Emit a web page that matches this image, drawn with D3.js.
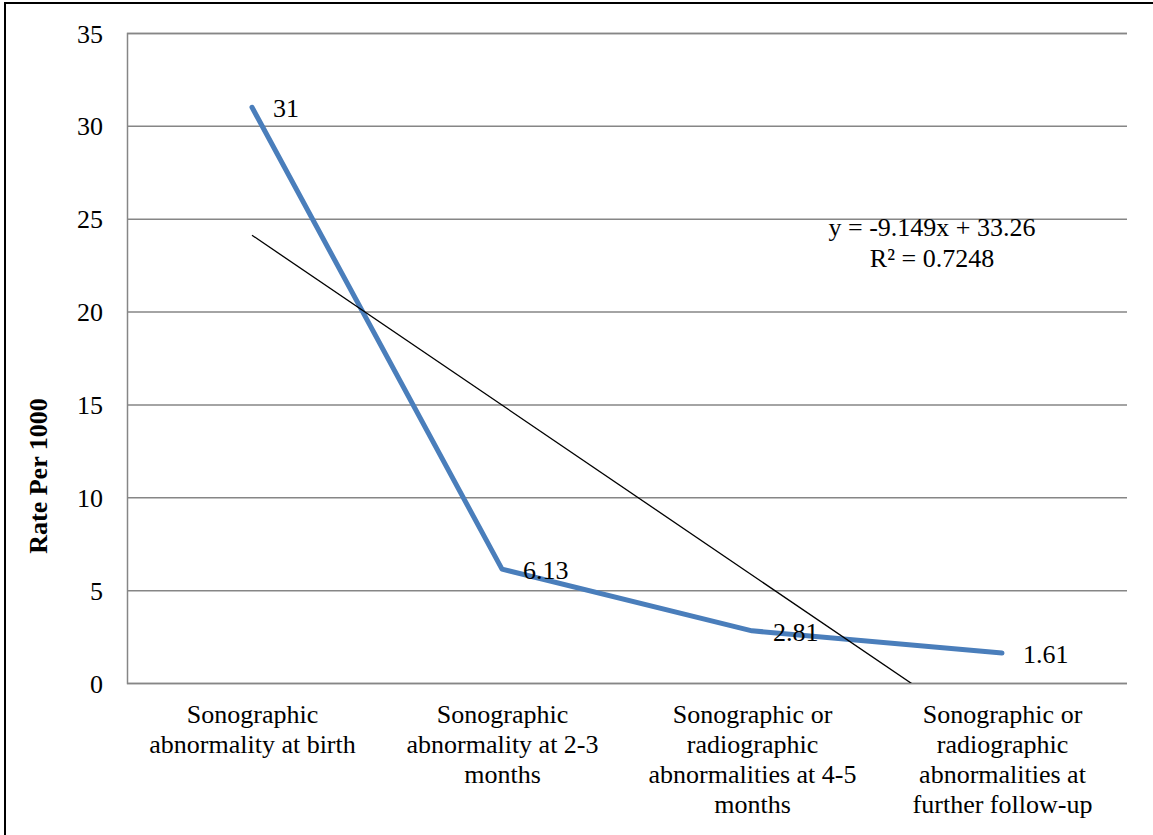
<!DOCTYPE html>
<html>
<head>
<meta charset="utf-8">
<script src="https://cdn.jsdelivr.net/npm/d3@7"></script>
<style>
  html, body { margin: 0; padding: 0; background: #fff; }
  svg { display: block; }
  text { font-family: "Liberation Serif", "Times New Roman", serif; fill: #000; }
</style>
</head>
<body>
<svg id="chart" width="1153" height="835"></svg>
<script>
// Rate per 1000 at each stage of follow-up
const categories = [
  ["Sonographic", "abnormality at birth"],
  ["Sonographic", "abnormality at 2-3", "months"],
  ["Sonographic or", "radiographic", "abnormalities at 4-5", "months"],
  ["Sonographic or", "radiographic", "abnormalities at", "further follow-up"]
];
const values = [31, 6.13, 2.81, 1.61];
const valueLabels = ["31", "6.13", "2.81", "1.61"];
const yTicks = [0, 5, 10, 15, 20, 25, 30, 35];
const trendSlope = -9.149;
const trendIntercept = 33.26;
const trendText = ["y = -9.149x + 33.26", "R\u00b2 = 0.7248"];
const yTitle = "Rate Per 1000";

const svg = d3.select("#chart");
const plot = { left: 127, right: 1127, top: 33, bottom: 683 };

const keys = categories.map((c, i) => i);
const x = d3.scalePoint().domain(keys).range([plot.left, plot.right]).padding(0.5);
const y = d3.scaleLinear().domain([0, 35]).range([plot.bottom, plot.top]);

// outer frame
svg.append("rect")
  .attr("x", 5).attr("y", 3).attr("width", 1170).attr("height", 850)
  .attr("fill", "none").attr("stroke", "#000").attr("stroke-width", 2);

// horizontal gridlines + y axis labels
const yAxis = d3.axisLeft(y).tickValues(yTicks).tickSize(-(plot.right - plot.left)).tickPadding(24);
const gy = svg.append("g").attr("transform", `translate(${plot.left},0)`).call(yAxis);
gy.select(".domain").attr("stroke", "#868686").attr("stroke-width", 1.5);
gy.selectAll(".tick line").attr("stroke", "#868686").attr("stroke-width", 1.5);
gy.selectAll(".tick text")
  .attr("font-family", "Liberation Serif, Times New Roman, serif")
  .attr("font-size", 26).attr("fill", "#000")
  .attr("dy", null).attr("y", 9);

// category axis
const xAxis = d3.axisBottom(x).tickSize(0).tickFormat(() => "");
const gx = svg.append("g").attr("transform", `translate(0,${plot.bottom})`).call(xAxis);
gx.select(".domain").remove();
gx.selectAll(".tick").each(function(d) {
  const t = d3.select(this).append("text")
    .attr("text-anchor", "middle")
    .attr("font-family", "Liberation Serif, Times New Roman, serif")
    .attr("font-size", 26)
    .attr("y", 40);
  categories[d].forEach((line, j) => {
    t.append("tspan").attr("x", 0).attr("dy", j === 0 ? 0 : 30).text(line);
  });
});

// y axis title
svg.append("text")
  .attr("transform", `translate(47,476) rotate(-90)`)
  .attr("text-anchor", "middle")
  .attr("font-size", 26).attr("font-weight", "bold")
  .text(yTitle);

// data line
const line = d3.line().x((d, i) => x(i)).y(d => y(d));
svg.append("path")
  .datum(values)
  .attr("d", line)
  .attr("fill", "none")
  .attr("stroke", "#4a7ebb")
  .attr("stroke-width", 5)
  .attr("stroke-linejoin", "round")
  .attr("stroke-linecap", "round");

// linear trendline, clipped to the plot area
svg.append("clipPath").attr("id", "plotClip")
  .append("rect")
  .attr("x", plot.left).attr("y", plot.top)
  .attr("width", plot.right - plot.left).attr("height", plot.bottom - plot.top);
const trendPts = [1, values.length].map(n => [x(n - 1), y(trendSlope * n + trendIntercept)]);
svg.append("path")
  .attr("clip-path", "url(#plotClip)")
  .attr("d", d3.line()(trendPts))
  .attr("stroke", "#000").attr("stroke-width", 1.3).attr("fill", "none");

// trendline equation
const eq = svg.append("text").attr("text-anchor", "middle").attr("font-size", 26)
  .attr("x", 932).attr("y", 236);
trendText.forEach((s, j) => eq.append("tspan").attr("x", 932).attr("dy", j === 0 ? 0 : 31).text(s));

// value labels
svg.append("g").selectAll("text")
  .data(values)
  .join("text")
  .attr("x", (d, i) => x(i) + 21)
  .attr("y", d => y(d) + 10)
  .attr("font-size", 26)
  .text((d, i) => valueLabels[i]);
</script>
</body>
</html>
